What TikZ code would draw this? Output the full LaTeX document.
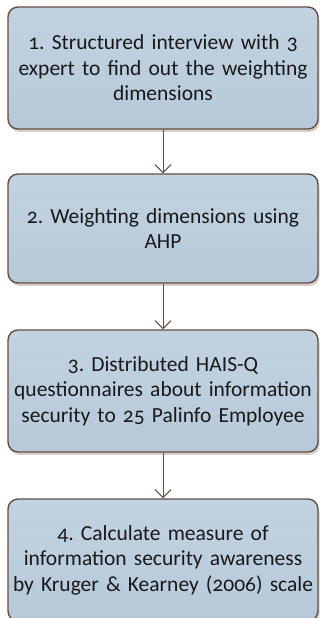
\documentclass[tikz,border=0pt]{standalone}
\usepackage{fontspec}
\setmainfont[Numbers=OldStyle]{Carlito}
\usetikzlibrary{arrows.meta,shadows}
\definecolor{boxfill}{RGB}{183,201,217}
\definecolor{boxlight}{RGB}{194,210,225}
\definecolor{boxedge}{RGB}{100,78,68}
\definecolor{shadowc}{RGB}{216,206,200}
\definecolor{txt}{RGB}{25,25,25}
\begin{document}
\frenchspacing
\begin{tikzpicture}[x=1pt,y=1pt,
  stepbox/.style={draw=boxedge, line width=1.4pt, rounded corners=10pt,
    left color=boxlight, right color=boxfill, shading angle=0,
    minimum width=310pt, align=center, text width=306pt, inner sep=0pt,
    font=\fontsize{21.5}{25.5}\selectfont, text=txt,
    drop shadow={shadow xshift=1.5pt, shadow yshift=-3pt, fill=shadowc, opacity=1}},
  link/.style={draw=boxedge, line width=1pt, -{Straight Barb[length=8pt,width=16pt,line width=1pt]}}]
\useasboundingbox (0,0) rectangle (320,618);
\node[stepbox, minimum height=122pt] (s1) at (163,550) {1. Structured interview with 3\\expert to find out the weighting\\dimensions};
\node[stepbox, minimum height=109pt] (s2) at (163,389.5) {2. Weighting dimensions using\\AHP};
\node[stepbox, minimum height=122pt] (s3) at (163,227) {3. Distributed HAIS-Q\\questionnaires about information\\security to 25 Palinfo Employee};
\node[stepbox, minimum height=122pt] (s4) at (163,58) {4. Calculate measure of\\information security awareness\\by Kruger \& Kearney (2006) scale};
\draw[link] (s1.south) -- (s2.north);
\draw[link] (s2.south) -- (s3.north);
\draw[link] (s3.south) -- (s4.north);
\end{tikzpicture}
\end{document}
